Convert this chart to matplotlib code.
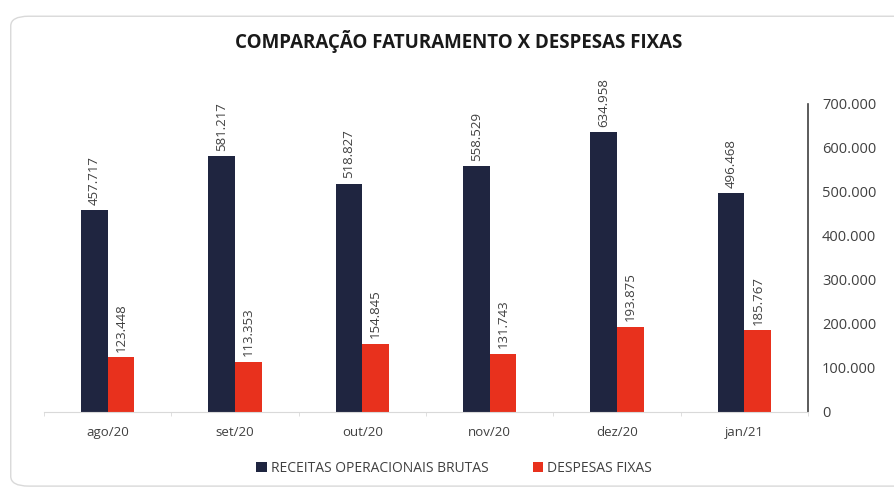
import matplotlib
matplotlib.use('Agg')
import matplotlib.pyplot as plt
import numpy as np
from matplotlib.patches import FancyBboxPatch
import matplotlib.ticker as mticker

# data
meses = ["ago/20", "set/20", "out/20", "nov/20", "dez/20", "jan/21"]
receitas = [457717, 581217, 518827, 558529, 634958, 496468]
despesas = [123448, 113353, 154845, 131743, 193875, 185767]

cor_rec = "#1f2540"
cor_desp = "#e8311d"

plt.rcParams['font.family'] = ['Open Sans', 'DejaVu Sans']

fig = plt.figure(figsize=(8.94, 4.92), dpi=100)

# rounded border around the chart
borda = FancyBboxPatch((0.012, 0.012), 1.02, 0.955, boxstyle="round,pad=0,rounding_size=0.02",
                       transform=fig.transFigure, facecolor='none', edgecolor='#d9d9d9',
                       linewidth=1.0)
fig.patches.append(borda)

ax = fig.add_axes([0.049, 0.163, 0.855, 0.626])
ax.patch.set_alpha(0)
x = np.arange(len(meses))
w = 0.21

b1 = ax.bar(x - w/2, receitas, w, color=cor_rec, label="RECEITAS OPERACIONAIS BRUTAS")
b2 = ax.bar(x + w/2, despesas, w, color=cor_desp, label="DESPESAS FIXAS")

fmt = lambda v: f"{v:,.0f}".replace(",", ".")
for rects, vals in ((b1, receitas), (b2, despesas)):
    for r, v in zip(rects, vals):
        ax.annotate(fmt(v), (r.get_x() + r.get_width()/2, v), xytext=(0, 4),
                    textcoords='offset points', rotation=90, ha='center', va='bottom',
                    fontsize=9.5, color='#404040')

ax.set_xlim(-0.5, len(meses) - 0.5)
ax.set_ylim(0, 700000)
ax.yaxis.tick_right()
ax.set_yticks(np.arange(0, 700001, 100000))
ax.yaxis.set_major_formatter(mticker.FuncFormatter(lambda v, p: fmt(v)))
ax.tick_params(axis='y', length=0, pad=10, labelsize=10.5, labelcolor='#404040')
ax.set_xticks(x)
ax.set_xticklabels(meses)
ax.tick_params(axis='x', length=0, pad=10, labelsize=9.5, labelcolor='#404040')
ax.set_xticks(np.arange(-0.5, len(meses)), minor=True)
ax.tick_params(axis='x', which='minor', length=3, color='#d9d9d9')

for s in ('top', 'left'):
    ax.spines[s].set_visible(False)
ax.spines['bottom'].set_color('#d9d9d9')
ax.spines['right'].set_color('#404040')
ax.spines['right'].set_linewidth(1.2)

fig.text(0.513, 0.915, "COMPARAÇÃO FATURAMENTO X DESPESAS FIXAS", ha='center', va='center',
         fontsize=13.5, fontweight='bold', color='#1a1a1a')

fig.legend(loc='center', bbox_to_anchor=(0.508, 0.048), ncol=2, frameon=False,
           fontsize=10, handlelength=0.75, handleheight=0.75, handletextpad=0.3,
           columnspacing=3.2, labelcolor='#404040')

plt.savefig('out.png', dpi=100)
